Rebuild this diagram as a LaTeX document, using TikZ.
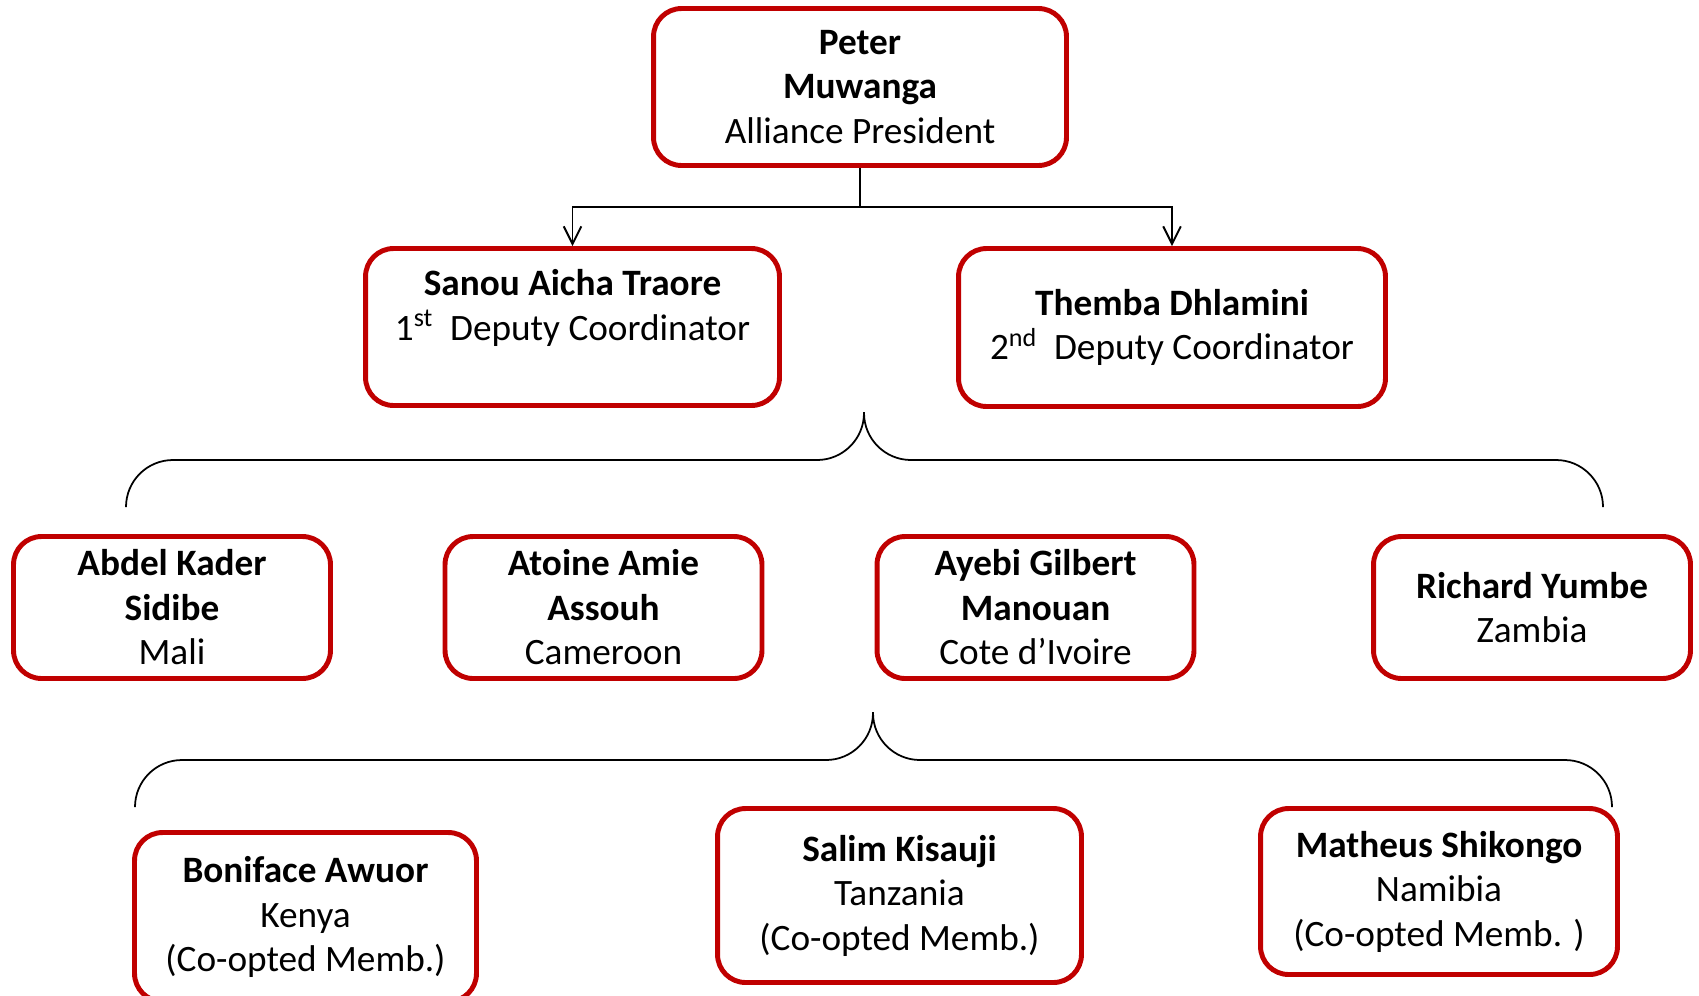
\documentclass[tikz,border=0pt]{standalone}
\usepackage{fontspec}
\setmainfont{Carlito}
\usetikzlibrary{arrows.meta}
\definecolor{boxred}{RGB}{192,0,0}

\begin{document}
\begin{tikzpicture}[x=0.02cm,y=-0.02cm,
  person/.style={draw=boxred,line width=2.8pt,rounded corners=0.56cm,fill=white,
    align=center,inner sep=0pt,font=\fontsize{21.2}{25.3}\selectfont},
  link/.style={line width=1.1pt,-{Straight Barb[length=10pt,width=10pt]}},
  brace/.style={line width=1pt,rounded corners=0.94cm}]
\useasboundingbox (0,0) rectangle (1699,995);

\node[person,minimum width=8.26cm,minimum height=3.14cm] (pres) at (860,87)
  {\textbf{Peter}\\ \textbf{Muwanga}\\ Alliance President};

\node[person,minimum width=8.28cm,minimum height=3.14cm] (dep1) at (572.5,327)
  {\textbf{Sanou Aicha Traore}\\ 1\textsuperscript{st}~~Deputy Coordinator\\ \mbox{}};
\node[person,minimum width=8.54cm,minimum height=3.16cm] (dep2) at (1172,327.5)
  {\textbf{Themba Dhlamini}\\ 2\textsuperscript{nd}~~Deputy Coordinator};

\node[person,minimum width=6.34cm,minimum height=2.84cm] (mali) at (172,607.5)
  {\textbf{Abdel Kader}\\ \textbf{Sidibe}\\ Mali};
\node[person,minimum width=6.34cm,minimum height=2.84cm] (cam) at (603.5,607.5)
  {\textbf{Atoine Amie}\\ \textbf{Assouh}\\ Cameroon};
\node[person,minimum width=6.34cm,minimum height=2.84cm] (civ) at (1035.5,607.5)
  {\textbf{Ayebi Gilbert}\\ \textbf{Manouan}\\ Cote d’Ivoire};
\node[person,minimum width=6.34cm,minimum height=2.84cm] (zam) at (1532,607.5)
  {\textbf{Richard Yumbe}\\ Zambia};

\node[person,minimum width=6.84cm,minimum height=3.38cm] (ken) at (305.5,917)
  {\textbf{Boniface Awuor}\\ Kenya\\ (Co-opted Memb.)};
\node[person,minimum width=7.28cm,minimum height=3.48cm] (tan) at (899.5,895.5)
  {\textbf{Salim Kisauji}\\ Tanzania\\ (Co-opted Memb.)};
\node[person,minimum width=7.14cm,minimum height=3.32cm] (nam) at (1439,891.5)
  {\textbf{Matheus Shikongo}\\ Namibia\\ (Co-opted Memb. )};

\coordinate (split) at (860,207);
\draw[line width=1.1pt] (pres) -- (split);
\draw[link] (split) -| (dep1);
\draw[link] (split) -| (dep2);

\coordinate (tipA) at (864,412);
\coordinate (midA) at (864,460);
\coordinate (leftA) at (126,507);
\coordinate (rightA) at (1603,507);
\draw[brace] (leftA) |- (midA) -- (tipA);
\draw[brace] (rightA) |- (midA) -- (tipA);

\coordinate (tipB) at (873,712);
\coordinate (midB) at (873,760);
\coordinate (leftB) at (135,807);
\coordinate (rightB) at (1612,807);
\draw[brace] (leftB) |- (midB) -- (tipB);
\draw[brace] (rightB) |- (midB) -- (tipB);

\end{tikzpicture}
\end{document}
